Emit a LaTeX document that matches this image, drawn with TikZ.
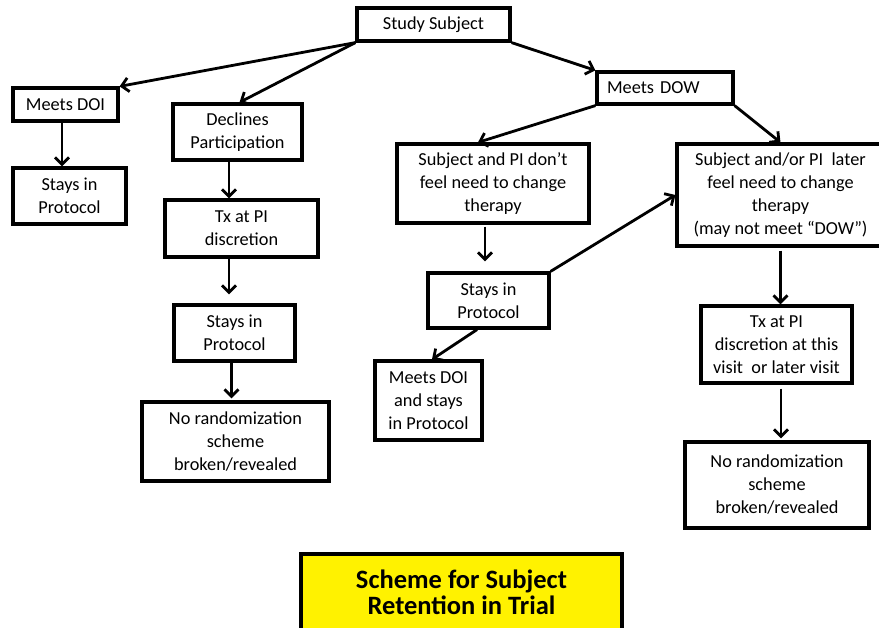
\documentclass[tikz,border=0pt]{standalone}
\usepackage{fontspec}
\setmainfont{Carlito}
\usetikzlibrary{arrows.meta}
\begin{document}
\begin{tikzpicture}[x=1pt,y=-1pt,
  box/.style={draw=black,line width=3.2pt,fill=white,inner sep=0pt,align=center,
    font=\fontsize{18.3}{23}\selectfont},
  conn/.style={line width=2.8pt,-{Straight Barb[length=7pt,width=14pt]}},
]
\useasboundingbox (0,0) rectangle (879,628);
% nodes: centre, width, height
\node[box,minimum width=153pt,minimum height=33pt] (ss) at (433.5,24.5) {Study Subject};
\node[box,minimum width=105pt,minimum height=33pt] (doi) at (65.5,104.5) {Meets DOI};
\node[box,minimum width=113pt,minimum height=56pt] (st1) at (69.5,196) {Stays in\\Protocol};
\node[box,minimum width=129pt,minimum height=56pt] (dec) at (237.5,132) {Declines\\Participation};
\node[box,minimum width=153pt,minimum height=57pt] (tx1) at (241.5,228.5) {Tx at PI\\discretion};
\node[box,minimum width=121pt,minimum height=56pt] (st2) at (234.5,333) {Stays in\\Protocol};
\node[box,minimum width=187pt,minimum height=79pt] (nr1) at (235.5,441.5) {No randomization\\scheme\\broken/revealed};
\node[box,minimum width=136pt,minimum height=32pt,text width=116pt,inner xsep=10pt,align=left] (dow) at (665,88) {Meets DOW};
\node[box,minimum width=192pt,minimum height=79pt] (spd) at (493,183.5) {Subject and PI don’t\\feel need to change\\therapy};
\node[box,minimum width=121pt,minimum height=55pt] (stm) at (488.5,300.5) {Stays in\\Protocol};
\node[box,minimum width=107pt,minimum height=79pt] (mdoi) at (428.5,400.5) {Meets DOI\\and stays\\in Protocol};
\node[box,minimum width=207pt,minimum height=102pt] (later) at (780.5,195) {Subject and/or PI\ \ later\\feel need to change\\therapy\\(may not meet “DOW”)};
\node[box,minimum width=151pt,minimum height=77pt] (txr) at (776.5,344.5) {Tx at PI\\discretion at this\\visit\ \ or later visit};
\node[box,minimum width=184pt,minimum height=86pt] (nrr) at (777,485) {No randomization\\scheme\\broken/revealed};
\node[box,fill=yellow,minimum width=321pt,minimum height=76pt,
  font=\fontsize{26.5}{26}\selectfont\bfseries] (title) at (461.5,592) {Scheme for Subject\\Retention in Trial};
% connectors
\draw[conn] (ss.south west) -- (doi.north east);
\draw[conn] (ss.south west) -- ([xshift=2pt]dec.north);
\draw[conn] (ss.south east) -- (dow.north west);
\draw[conn] (dow.south west) -- ([xshift=-15pt]spd.north);
\draw[conn] (dow.south east) -- (later.north);
\draw[conn] ([xshift=-3.5pt]doi.south) -- ([xshift=-7.5pt]st1.north);
\draw[conn] ([xshift=-8.5pt]dec.south) -- ([xshift=-12.5pt]tx1.north);
\draw[conn,shorten >=9pt] ([xshift=-12.5pt]tx1.south) -- ([xshift=-5.5pt]st2.north);
\draw[conn,shorten >=2pt] ([xshift=-3pt]st2.south) -- ([xshift=-4pt]nr1.north);
\draw[conn,shorten <=2pt,shorten >=10pt] ([xshift=-8pt]spd.south) -- ([xshift=-3.5pt]stm.north);
\draw[conn] (stm.north east) -- (later.west);
\draw[conn] ([xshift=-11.5pt]stm.south) -- ([xshift=3.5pt]mdoi.north);
\draw[conn,shorten <=3pt] (later.south) -- ([xshift=4pt]txr.north);
\draw[conn,shorten <=4pt,shorten >=2pt] ([xshift=4.5pt]txr.south) -- ([xshift=4pt]nrr.north);
\end{tikzpicture}
\end{document}
